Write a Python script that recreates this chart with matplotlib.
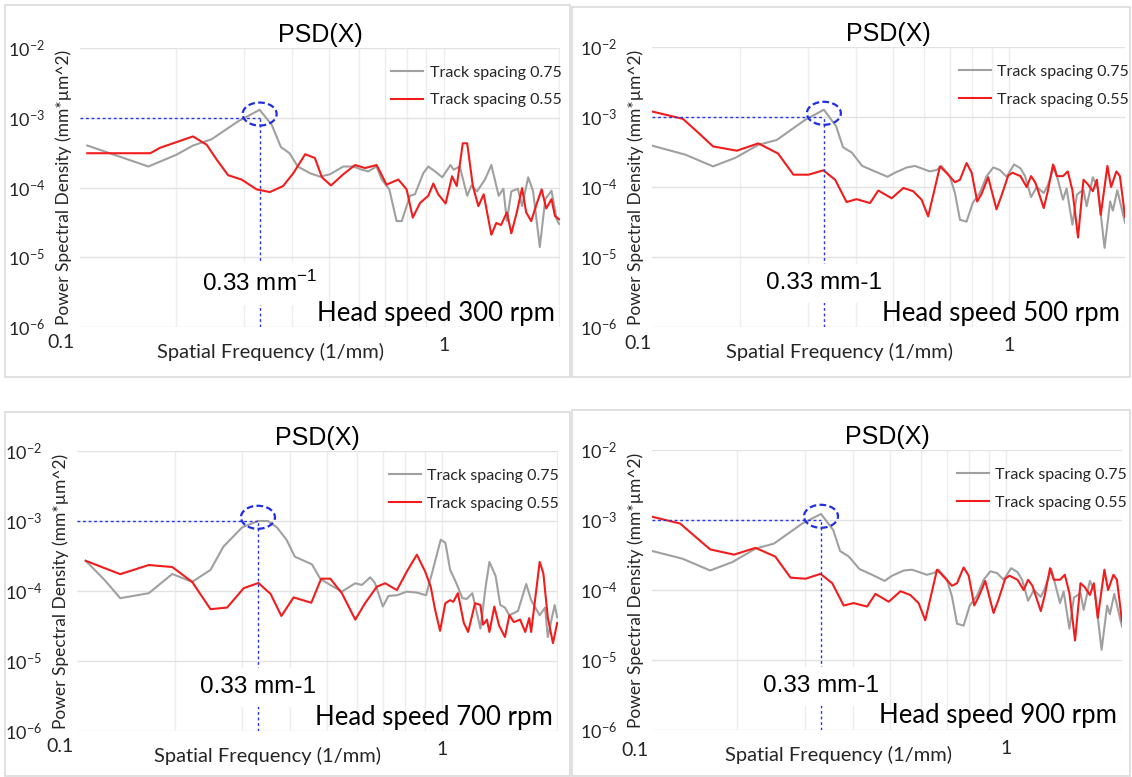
import matplotlib
matplotlib.use("Agg")
import matplotlib.pyplot as plt
from matplotlib.patches import Ellipse, Rectangle
from matplotlib.transforms import ScaledTranslation, blended_transform_factory
from matplotlib.ticker import NullLocator, NullFormatter

plt.rcParams['font.family'] = ['Lato', 'DejaVu Sans']
plt.rcParams['mathtext.fontset'] = 'custom'
plt.rcParams['mathtext.rm'] = 'Liberation Sans'
plt.rcParams['mathtext.it'] = 'Liberation Sans:italic'
plt.rcParams['mathtext.bf'] = 'Liberation Sans:bold'
plt.rcParams['mathtext.default'] = 'regular'

# ---- PSD data, head speed 300 rpm ----
freq_300_ts75 = [0.117, 0.169, 0.200, 0.221, 0.247, 0.290, 0.330, 0.355, 0.375, 0.395,
                 0.415, 0.447, 0.475, 0.504, 0.546, 0.580, 0.610, 0.634, 0.667, 0.688,
                 0.720, 0.752, 0.776, 0.815, 0.840, 0.883, 0.910, 0.948, 0.990, 1.04,
                 1.06, 1.10, 1.15, 1.18, 1.22, 1.28, 1.33, 1.39, 1.43, 1.46,
                 1.50, 1.56, 1.60, 1.66, 1.71, 1.78, 1.84, 1.91, 1.97, 2.00]
psd_300_ts75 = [4.0e-4, 2.0e-4, 2.95e-4, 4.0e-4, 4.9e-4, 8.9e-4, 1.3e-3, 7.9e-4, 3.8e-4, 3.1e-4,
                2.0e-4, 1.6e-4, 1.43e-4, 1.55e-4, 2.0e-4, 2.0e-4, 1.8e-4, 1.7e-4, 2.0e-4, 1.3e-4,
                9.4e-5, 3.3e-5, 3.3e-5, 7.6e-5, 8.0e-5, 1.6e-4, 2.0e-4, 1.7e-4, 1.4e-4, 2.1e-4,
                1.8e-4, 2.0e-4, 7.6e-5, 1.07e-4, 8.8e-5, 1.3e-4, 2.1e-4, 7.6e-5, 9.6e-5, 3.3e-5,
                8.8e-5, 9.6e-5, 5.4e-5, 1.4e-4, 8.8e-5, 1.4e-5, 6.8e-5, 9.0e-5, 3.5e-5, 3.0e-5]
freq_300_ts55 = [0.117, 0.171, 0.181, 0.196, 0.221, 0.240, 0.255, 0.273, 0.296, 0.324,
                 0.351, 0.380, 0.404, 0.434, 0.460, 0.480, 0.507, 0.546, 0.586, 0.622,
                 0.667, 0.708, 0.760, 0.799, 0.829, 0.866, 0.910, 0.938, 0.966, 1.01,
                 1.05, 1.08, 1.12, 1.15, 1.19, 1.23, 1.27, 1.33, 1.37, 1.41,
                 1.46, 1.50, 1.55, 1.60, 1.64, 1.69, 1.75, 1.80, 1.85, 1.91, 1.95, 2.00]
psd_300_ts55 = [3.1e-4, 3.1e-4, 3.7e-4, 4.3e-4, 5.4e-4, 4.1e-4, 2.5e-4, 1.5e-4, 1.3e-4, 9.4e-5,
                8.6e-5, 1.05e-4, 1.6e-4, 3.0e-4, 2.65e-4, 1.4e-4, 1.07e-4, 1.55e-4, 2.1e-4, 1.9e-4,
                2.1e-4, 1.1e-4, 1.3e-4, 9.4e-5, 3.7e-5, 6.0e-5, 7.6e-5, 1.14e-4, 8.0e-5, 5.9e-5,
                1.45e-4, 1.05e-4, 4.3e-4, 4.3e-4, 1.05e-4, 5.4e-5, 8.0e-5, 2.1e-5, 3.1e-5, 2.9e-5,
                4.4e-5, 2.2e-5, 4.4e-5, 9.8e-5, 4.4e-5, 3.3e-5, 6.0e-5, 9.4e-5, 5.0e-5, 6.8e-5, 3.9e-5, 3.5e-5]

# ---- head speed 500 rpm ----
freq_500_ts75 = [0.118, 0.144, 0.170, 0.194, 0.223, 0.249, 0.295, 0.330, 0.355, 0.370,
                 0.390, 0.415, 0.448, 0.483, 0.505, 0.542, 0.569, 0.622, 0.648, 0.667,
                 0.701, 0.723, 0.745, 0.775, 0.804, 0.839, 0.874, 0.909, 0.946, 0.985,
                 1.03, 1.07, 1.10, 1.14, 1.18, 1.23, 1.26, 1.31, 1.38, 1.41,
                 1.46, 1.50, 1.56, 1.59, 1.65, 1.70, 1.77, 1.83, 1.86, 1.91, 2.00]
psd_500_ts75 = [3.9e-4, 2.9e-4, 1.97e-4, 2.6e-4, 4.0e-4, 4.7e-4, 9.1e-4, 1.27e-3, 7.4e-4, 3.7e-4,
                3.1e-4, 2.0e-4, 1.67e-4, 1.4e-4, 1.6e-4, 1.9e-4, 2.0e-4, 1.67e-4, 1.75e-4, 2.0e-4,
                1.43e-4, 8.2e-5, 3.4e-5, 3.2e-5, 5.9e-5, 8.2e-5, 1.43e-4, 1.9e-4, 1.75e-4, 1.4e-4,
                2.1e-4, 1.85e-4, 1.43e-4, 7.2e-5, 1.0e-4, 8.2e-5, 1.05e-4, 2.0e-4, 6.6e-5, 9.5e-5,
                2.9e-5, 7.8e-5, 9.2e-5, 5.3e-5, 1.38e-4, 9.5e-5, 1.35e-5, 6.2e-5, 4.6e-5, 9.0e-5, 3.1e-5]
freq_500_ts55 = [0.118, 0.142, 0.156, 0.170, 0.196, 0.223, 0.251, 0.275, 0.301, 0.329,
                 0.353, 0.378, 0.401, 0.435, 0.457, 0.495, 0.531, 0.563, 0.592, 0.616,
                 0.661, 0.688, 0.723, 0.745, 0.775, 0.799, 0.826, 0.848, 0.882, 0.927,
                 0.955, 0.994, 1.02, 1.07, 1.11, 1.14, 1.17, 1.23, 1.26, 1.30,
                 1.33, 1.38, 1.42, 1.46, 1.51, 1.56, 1.60, 1.65, 1.69, 1.73,
                 1.80, 1.84, 1.90, 1.94, 2.00]
psd_500_ts55 = [1.2e-3, 9.4e-4, 5.9e-4, 3.8e-4, 3.3e-4, 4.2e-4, 3.0e-4, 1.5e-4, 1.5e-4, 1.73e-4,
                1.27e-4, 6.1e-5, 6.7e-5, 5.9e-5, 8.9e-5, 6.9e-5, 9.7e-5, 8.7e-5, 6.6e-5, 3.8e-5,
                1.97e-4, 1.58e-4, 1.17e-4, 1.27e-4, 2.2e-4, 1.6e-4, 6.2e-5, 8.0e-5, 1.38e-4, 4.8e-5,
                7.5e-5, 1.45e-4, 1.6e-4, 1.43e-4, 1.0e-4, 1.43e-4, 1.15e-4, 5.0e-5, 8.7e-5, 2.1e-4,
                1.43e-4, 1.43e-4, 1.67e-4, 9.0e-5, 1.9e-5, 1.27e-4, 1.1e-4, 8.7e-5, 1.27e-4, 4.0e-5,
                2.0e-4, 1.0e-4, 1.67e-4, 1.43e-4, 3.8e-5]

# ---- head speed 700 rpm ----
freq_700_ts75 = [0.117, 0.131, 0.144, 0.171, 0.197, 0.222, 0.248, 0.268, 0.300, 0.330,
                 0.350, 0.370, 0.392, 0.412, 0.457, 0.480, 0.510, 0.547, 0.593, 0.617,
                 0.649, 0.668, 0.700, 0.724, 0.762, 0.809, 0.859, 0.908, 0.946, 0.992,
                 1.02, 1.05, 1.09, 1.13, 1.16, 1.20, 1.26, 1.30, 1.33, 1.38,
                 1.42, 1.46, 1.50, 1.58, 1.66, 1.71, 1.80, 1.86, 1.89, 1.97, 2.00]
psd_700_ts75 = [2.7e-4, 1.44e-4, 7.9e-5, 9.3e-5, 1.75e-4, 1.35e-4, 2.0e-4, 4.3e-4, 8.1e-4, 1.0e-3,
                1.0e-3, 8.1e-4, 5.4e-4, 3.1e-4, 2.4e-4, 1.5e-4, 1.22e-4, 9.8e-5, 1.29e-4, 1.22e-4,
                1.57e-4, 1.29e-4, 6.0e-5, 8.5e-5, 8.7e-5, 9.8e-5, 9.5e-5, 8.7e-5, 2.0e-4, 5.4e-4,
                4.9e-4, 2.0e-4, 1.29e-4, 7.9e-5, 7.7e-5, 9.3e-5, 2.9e-5, 1.15e-4, 2.6e-4, 1.65e-4,
                6.3e-5, 5.8e-5, 4.5e-5, 5.2e-5, 1.26e-4, 7.4e-5, 4.5e-5, 5.8e-5, 2.2e-5, 6.3e-5, 4.2e-5]
freq_700_ts55 = [0.117, 0.144, 0.171, 0.197, 0.222, 0.248, 0.274, 0.303, 0.331, 0.356,
                 0.380, 0.409, 0.455, 0.483, 0.510, 0.547, 0.593, 0.629, 0.675, 0.710,
                 0.762, 0.809, 0.859, 0.903, 0.934, 0.959, 0.988, 1.02, 1.05, 1.07,
                 1.10, 1.14, 1.17, 1.22, 1.26, 1.28, 1.31, 1.33, 1.37, 1.41,
                 1.46, 1.50, 1.54, 1.60, 1.65, 1.69, 1.71, 1.80, 1.84, 1.89, 1.95, 2.00]
psd_700_ts55 = [2.7e-4, 1.74e-4, 2.35e-4, 2.2e-4, 1.35e-4, 5.5e-5, 5.8e-5, 1.1e-4, 1.3e-4, 9.1e-5,
                4.4e-5, 8.1e-5, 6.8e-5, 1.5e-4, 1.5e-4, 9.3e-5, 3.9e-5, 6.7e-5, 1.15e-4, 1.29e-4,
                1.03e-4, 1.9e-4, 3.3e-4, 1.9e-4, 1.15e-4, 5.4e-5, 2.7e-5, 6.7e-5, 7.4e-5, 7.0e-5,
                9.3e-5, 3.5e-5, 2.6e-5, 6.7e-5, 6.3e-5, 3.3e-5, 3.9e-5, 2.6e-5, 6.0e-5, 3.2e-5,
                2.2e-5, 4.5e-5, 3.6e-5, 3.9e-5, 2.6e-5, 4.1e-5, 2.6e-5, 2.6e-4, 1.8e-4, 4.2e-5, 1.8e-5, 3.5e-5]

# ---- head speed 900 rpm ----
freq_900_ts75 = [0.118, 0.144, 0.170, 0.194, 0.223, 0.249, 0.295, 0.330, 0.355, 0.370,
                 0.390, 0.415, 0.448, 0.483, 0.505, 0.542, 0.569, 0.622, 0.648, 0.667,
                 0.701, 0.723, 0.745, 0.775, 0.804, 0.839, 0.874, 0.909, 0.946, 0.985,
                 1.03, 1.07, 1.10, 1.14, 1.18, 1.23, 1.26, 1.31, 1.38, 1.41,
                 1.46, 1.50, 1.56, 1.59, 1.65, 1.70, 1.77, 1.83, 1.86, 1.91, 2.00]
psd_900_ts75 = [3.7e-4, 2.8e-4, 1.9e-4, 2.5e-4, 3.9e-4, 4.6e-4, 8.9e-4, 1.22e-3, 7.2e-4, 3.6e-4,
                3.0e-4, 2.0e-4, 1.65e-4, 1.35e-4, 1.6e-4, 1.9e-4, 1.95e-4, 1.65e-4, 1.75e-4, 1.95e-4,
                1.43e-4, 8.0e-5, 3.3e-5, 3.1e-5, 6.0e-5, 8.2e-5, 1.4e-4, 1.85e-4, 1.75e-4, 1.4e-4,
                2.05e-4, 1.8e-4, 1.4e-4, 7.0e-5, 1.0e-4, 8.0e-5, 1.05e-4, 2.0e-4, 6.5e-5, 9.5e-5,
                2.8e-5, 7.8e-5, 9.0e-5, 5.2e-5, 1.35e-4, 9.3e-5, 1.4e-5, 6.0e-5, 4.5e-5, 8.8e-5, 3.0e-5]
freq_900_ts55 = [0.118, 0.142, 0.156, 0.170, 0.196, 0.223, 0.251, 0.275, 0.301, 0.329,
                 0.353, 0.378, 0.401, 0.435, 0.457, 0.495, 0.531, 0.563, 0.592, 0.616,
                 0.661, 0.688, 0.723, 0.745, 0.775, 0.799, 0.826, 0.848, 0.882, 0.927,
                 0.955, 0.994, 1.02, 1.07, 1.11, 1.14, 1.17, 1.23, 1.26, 1.30,
                 1.33, 1.38, 1.42, 1.46, 1.51, 1.56, 1.60, 1.65, 1.69, 1.73,
                 1.80, 1.84, 1.90, 1.94, 2.00]
psd_900_ts55 = [1.14e-3, 8.9e-4, 5.7e-4, 3.8e-4, 3.2e-4, 4.0e-4, 3.0e-4, 1.5e-4, 1.45e-4, 1.7e-4,
                1.25e-4, 6.0e-5, 6.5e-5, 5.8e-5, 8.8e-5, 6.8e-5, 9.6e-5, 8.5e-5, 6.5e-5, 3.7e-5,
                1.95e-4, 1.55e-4, 1.15e-4, 1.25e-4, 2.1e-4, 1.6e-4, 6.0e-5, 8.0e-5, 1.35e-4, 4.7e-5,
                7.3e-5, 1.45e-4, 1.6e-4, 1.4e-4, 1.0e-4, 1.4e-4, 1.15e-4, 5.0e-5, 8.5e-5, 2.05e-4,
                1.4e-4, 1.4e-4, 1.65e-4, 9.0e-5, 1.9e-5, 1.25e-4, 1.1e-4, 8.5e-5, 1.25e-4, 4.0e-5,
                1.95e-4, 1.0e-4, 1.65e-4, 1.4e-4, 3.6e-5]

peak_freq = 0.33        # mm^-1, marked peak of the 0.75 spacing curve
peak_level = 1.0e-3     # horizontal guide level
peak_labels = ['0.33 mm$^{-1}$', '0.33 mm-1', '0.33 mm-1', '0.33 mm-1']
head_speeds = [300, 500, 700, 900]
series_labels = ['Track spacing 0.75', 'Track spacing 0.55']
ytick_vals = [1e-6, 1e-5, 1e-4, 1e-3, 1e-2]
ytick_text = ['$10^{-6}$', '$10^{-5}$', '$10^{-4}$', '$10^{-3}$', '$10^{-2}$']

W, H = 1132, 777
fig = plt.figure(figsize=(W / 100, H / 100), dpi=100)
fig.patch.set_facecolor('white')

# panel frames (pixel boxes: left, top, right, bottom)
frames = [(5, 5, 570, 377), (572, 7, 1130, 377), (5, 412, 570, 776), (572, 410, 1130, 776)]
for l, t, r, b in frames:
    fig.add_artist(Rectangle((l / W, 1 - b / H), (r - l) / W, (b - t) / H,
                             transform=fig.transFigure, fill=False,
                             ec='#dadada', lw=1.2))

# plot areas in pixels (left, top, right, bottom), x ranges, height of the 0.1 label
plot_boxes = [(80, 48, 560, 327), (652, 47, 1125, 327), (77, 451, 558, 731), (652, 450, 1122, 730)]
xranges = [(0.112, 2.01), (0.118, 2.0), (0.111, 2.01), (0.120, 2.0)]
low_label_y = [-0.055, -0.058, -0.055, -0.075]

data = [
    (freq_300_ts75, psd_300_ts75, freq_300_ts55, psd_300_ts55),
    (freq_500_ts75, psd_500_ts75, freq_500_ts55, psd_500_ts55),
    (freq_700_ts75, psd_700_ts75, freq_700_ts55, psd_700_ts55),
    (freq_900_ts75, psd_900_ts75, freq_900_ts55, psd_900_ts55),
]

text_color = '#262626'

for i, (fg, pg, fr, pr) in enumerate(data):
    l, t, r, b = plot_boxes[i]
    ax = fig.add_axes([l / W, 1 - b / H, (r - l) / W, (b - t) / H])
    ax.set_xscale('log')
    ax.set_yscale('log')
    ax.set_xlim(*xranges[i])
    ax.set_ylim(1e-6, 1e-2)
    for sp in ax.spines.values():
        sp.set_visible(False)

    ax.set_yticks(ytick_vals)
    ax.set_yticklabels(ytick_text)
    ax.yaxis.set_minor_locator(NullLocator())
    ax.set_xticks([1])
    ax.set_xticklabels(['1'])
    ax.set_xticks([0.2, 0.3, 0.4, 0.5, 0.6, 0.7, 0.8, 0.9, 2.0], minor=True)
    ax.xaxis.set_minor_formatter(NullFormatter())
    ax.tick_params(axis='both', which='both', length=0)
    ax.tick_params(axis='y', pad=25, labelsize=13, labelcolor=text_color)
    ax.tick_params(axis='x', pad=7, labelsize=14, labelcolor=text_color)
    ax.grid(True, axis='x', which='both', color='#ededed', lw=1)
    ax.grid(True, axis='y', which='major', color='#e2e2e2', lw=1)
    ax.set_axisbelow(True)

    # 0.1 sits just left of the plotted range
    trans = blended_transform_factory(ax.transData, ax.transAxes)
    ax.text(0.1, low_label_y[i], '0.1', transform=trans, ha='left' if i % 2 else 'center',
            va='center', fontsize=14, color=text_color, clip_on=False)

    ax.plot(fg, pg, color='#a0a0a0', lw=1.5, label=series_labels[0])
    ax.plot(fr, pr, color='#f21c1c', lw=1.5, label=series_labels[1])

    # peak guides
    ax.vlines(peak_freq, 1e-6, peak_level, colors='#2a35e8', lw=1.0,
              linestyles=(0, (2, 2)), zorder=3)
    ax.hlines(peak_level, xranges[i][0], peak_freq, colors='#2a35e8', lw=1.0,
              linestyles=(0, (2, 2)), zorder=3)
    ell = Ellipse((0, 0), 0.34, 0.23, fill=False, ec='#1f2ee6', lw=1.6,
                  linestyle=(0, (3, 1.5)),
                  transform=fig.dpi_scale_trans + ScaledTranslation(peak_freq, 1.13e-3, ax.transData),
                  zorder=4)
    ax.add_patch(ell)

    ax.text(peak_freq, 4.2e-6, peak_labels[i], ha='center', va='center',
            fontsize=17.5, family='Liberation Sans', color='black', zorder=5,
            bbox=dict(boxstyle='square,pad=0.35', fc='white', ec='none'))
    ax.text(0.99, 0.05, f'Head speed {head_speeds[i]} rpm', transform=ax.transAxes,
            ha='right', va='center', fontsize=18.5, color='black', zorder=5)

    ax.set_title('PSD(X)', fontsize=18, family='Liberation Sans', color='black', pad=4)
    ax.set_xlabel('Spatial Frequency (1/mm)', fontsize=14.5, color=text_color)
    ax.xaxis.set_label_coords(0.396, -0.09)
    ax.xaxis.label.set_va('center')
    ax.set_ylabel('Power Spectral Density (mm*\u00b5m^2)', fontsize=12.5, color=text_color)
    ax.yaxis.set_label_coords(-16 / (r - l), 0.5)
    ax.yaxis.label.set_va('center')

    ax.legend(loc='upper left', bbox_to_anchor=(0.635, 0.96), frameon=False,
              fontsize=11.5, handlelength=2.0, handletextpad=0.4, labelspacing=0.85,
              borderaxespad=0, labelcolor=text_color)

fig.savefig('out.png', dpi=100, facecolor='white')
